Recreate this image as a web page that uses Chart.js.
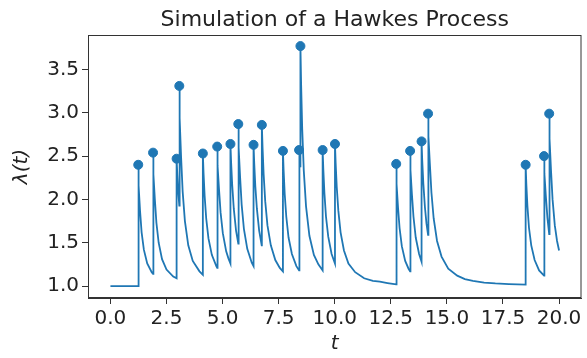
<!DOCTYPE html>
<html>
<head>
<meta charset="utf-8">
<script src="https://cdn.jsdelivr.net/npm/chart.js@4.4.0/dist/chart.umd.min.js"></script>
<style>
  html, body { margin: 0; padding: 0; background: #fff; }
</style>
</head>
<body>
<canvas id="hawkesChart" width="587" height="358"></canvas>
<script>
// event times and intensity right after each event (the dots)
const eventTimes = [1.24, 1.90, 2.95, 3.07, 4.12, 4.76, 5.35, 5.70, 6.38, 6.75, 7.69,
                    8.41, 8.47, 9.46, 10.01, 12.74, 13.36, 13.87, 14.16, 18.51, 19.33, 19.56];
const eventPeaks = [2.40, 2.54, 2.47, 3.31, 2.53, 2.61, 2.64, 2.87, 2.63, 2.86, 2.56,
                    2.57, 3.77, 2.57, 2.64, 2.41, 2.56, 2.67, 2.99, 2.40, 2.50, 2.99];

// intensity curve lambda(t)
const curveT = [
  0, 1.24, 1.24, 1.27, 1.32, 1.39, 1.49, 1.64, 1.84, 1.90,
  1.90, 1.93, 1.98, 2.05, 2.15, 2.30, 2.50, 2.80, 2.95,
  2.95, 2.98, 3.02, 3.07,
  3.07, 3.10, 3.15, 3.22, 3.32, 3.47, 3.67, 3.97, 4.12,
  4.12, 4.15, 4.20, 4.27, 4.37, 4.52, 4.72, 4.76,
  4.76, 4.79, 4.84, 4.91, 5.01, 5.16, 5.26, 5.35,
  5.35, 5.38, 5.43, 5.50, 5.60, 5.70,
  5.70, 5.73, 5.78, 5.85, 5.95, 6.10, 6.30, 6.38,
  6.38, 6.41, 6.46, 6.53, 6.63, 6.75,
  6.75, 6.78, 6.83, 6.90, 7.00, 7.15, 7.35, 7.55, 7.69,
  7.69, 7.72, 7.77, 7.84, 7.94, 8.09, 8.29, 8.41,
  8.41, 8.44, 8.47,
  8.47, 8.50, 8.55, 8.62, 8.72, 8.87, 9.07, 9.27, 9.46,
  9.46, 9.49, 9.54, 9.61, 9.71, 9.86, 10.01,
  10.01, 10.04, 10.09, 10.16, 10.26, 10.41, 10.61, 10.91, 11.31, 11.70, 12.01, 12.35, 12.74,
  12.74, 12.77, 12.82, 12.89, 12.99, 13.14, 13.29, 13.36,
  13.36, 13.39, 13.44, 13.51, 13.61, 13.76, 13.87,
  13.87, 13.90, 13.95, 14.02, 14.09, 14.16,
  14.16, 14.19, 14.24, 14.31, 14.41, 14.56, 14.76, 15.06, 15.46, 15.80, 16.16, 16.66, 17.16, 17.76, 18.51,
  18.51, 18.54, 18.59, 18.66, 18.76, 18.91, 19.11, 19.33,
  19.33, 19.36, 19.41, 19.48, 19.56,
  19.56, 19.59, 19.64, 19.71, 19.81, 19.91, 20.00
];
const curveLambda = [
  1.00, 1.00, 2.40, 2.16, 1.87, 1.62, 1.42, 1.26, 1.16, 1.14,
  2.54, 2.29, 2.00, 1.73, 1.50, 1.31, 1.19, 1.11, 1.09,
  2.47, 2.29, 2.10, 1.93,
  3.31, 2.94, 2.49, 2.09, 1.75, 1.47, 1.29, 1.17, 1.13,
  2.53, 2.31, 2.04, 1.78, 1.55, 1.36, 1.23, 1.21,
  2.61, 2.39, 2.12, 1.85, 1.61, 1.40, 1.32, 1.26,
  2.64, 2.43, 2.16, 1.89, 1.64, 1.49,
  2.87, 2.60, 2.26, 1.94, 1.66, 1.43, 1.27, 1.23,
  2.63, 2.42, 2.15, 1.89, 1.64, 1.46,
  2.86, 2.61, 2.29, 1.98, 1.70, 1.47, 1.30, 1.21, 1.17,
  2.56, 2.34, 2.06, 1.80, 1.56, 1.37, 1.23, 1.18,
  2.57, 2.46, 2.37,
  3.77, 3.34, 2.81, 2.33, 1.92, 1.58, 1.36, 1.25, 1.18,
  2.57, 2.35, 2.07, 1.80, 1.57, 1.37, 1.26,
  2.64, 2.42, 2.14, 1.87, 1.62, 1.41, 1.26, 1.16, 1.09, 1.06, 1.05, 1.035, 1.02,
  2.41, 2.18, 1.91, 1.67, 1.46, 1.29, 1.20, 1.17,
  2.56, 2.34, 2.06, 1.80, 1.56, 1.37, 1.28,
  2.67, 2.45, 2.18, 1.91, 1.72, 1.59,
  2.99, 2.73, 2.41, 2.08, 1.78, 1.52, 1.34, 1.20, 1.12, 1.08, 1.06, 1.04, 1.03, 1.022, 1.016,
  2.40, 2.18, 1.92, 1.67, 1.47, 1.30, 1.18, 1.12,
  2.50, 2.30, 2.04, 1.79, 1.60,
  2.99, 2.70, 2.34, 2.00, 1.70, 1.52, 1.41
];

const xTickValues = [0, 2.5, 5, 7.5, 10, 12.5, 15, 17.5, 20];
const xTickLabels = ['0.0', '2.5', '5.0', '7.5', '10.0', '12.5', '15.0', '17.5', '20.0'];
const yTickValues = [1, 1.5, 2, 2.5, 3, 3.5];
const yTickLabels = ['1.0', '1.5', '2.0', '2.5', '3.0', '3.5'];

const chartTitle = 'Simulation of a Hawkes Process';
const blue = '#1f77b4';
const fontFamily = '"DejaVu Sans", sans-serif';

// title over the plot area and the closed axes box
const framePlugin = {
    id: 'frame',
    afterDraw(chart) {
        const { ctx, chartArea: a } = chart;
        ctx.save();
        ctx.strokeStyle = '#333';
        ctx.lineWidth = 1;
        ctx.strokeRect(a.left + 0.5, a.top + 0.5, a.right - a.left - 1, a.bottom - a.top - 1);
        ctx.fillStyle = '#222';
        ctx.font = '22px ' + fontFamily;
        ctx.textAlign = 'center';
        ctx.textBaseline = 'alphabetic';
        ctx.fillText(chartTitle, (a.left + a.right) / 2, 26);
        ctx.restore();
    }
};

const ctx = document.getElementById('hawkesChart').getContext('2d');
new Chart(ctx, {
    data: {
        datasets: [
            {
                type: 'scatter',
                data: eventTimes.map((t, i) => ({ x: t, y: eventPeaks[i] })),
                backgroundColor: blue,
                borderColor: blue,
                pointRadius: 4.5,
                order: 0
            },
            {
                type: 'line',
                data: curveT.map((t, i) => ({ x: t, y: curveLambda[i] })),
                borderColor: blue,
                borderWidth: 1.8,
                pointRadius: 0,
                tension: 0,
                fill: false,
                order: 1
            }
        ]
    },
    options: {
        responsive: false,
        animation: false,
        layout: { padding: { top: 35, right: 1, left: 0, bottom: 0 } },
        plugins: { legend: { display: false }, tooltip: { enabled: false }, title: { display: false } },
        scales: {
            x: {
                type: 'linear',
                min: -1,
                max: 21,
                afterBuildTicks: s => { s.ticks = xTickValues.map(v => ({ value: v })); },
                afterFit: s => { s.height = 60; },
                ticks: {
                    callback: v => xTickLabels[xTickValues.indexOf(v)],
                    font: { family: fontFamily, size: 20 },
                    color: '#222',
                    padding: 3,
                    maxRotation: 0,
                    autoSkip: false
                },
                grid: { drawOnChartArea: false, tickLength: 6, color: '#333' },
                border: { color: '#333' },
                title: {
                    display: true,
                    text: 't',
                    font: { family: fontFamily, size: 20, style: 'italic' },
                    color: '#222',
                    padding: { top: 0, bottom: 2 }
                }
            },
            y: {
                type: 'linear',
                min: 0.862,
                max: 3.898,
                afterBuildTicks: s => { s.ticks = yTickValues.map(v => ({ value: v })); },
                afterFit: s => { s.width = 88; },
                ticks: {
                    callback: v => yTickLabels[yTickValues.indexOf(v)],
                    font: { family: fontFamily, size: 20 },
                    color: '#222',
                    padding: 3,
                    autoSkip: false
                },
                grid: { drawOnChartArea: false, tickLength: 6, color: '#333' },
                border: { color: '#333' },
                title: {
                    display: true,
                    text: 'λ(t)',
                    font: { family: fontFamily, size: 20, style: 'italic' },
                    color: '#222',
                    padding: { top: 10, bottom: 4 }
                }
            }
        }
    },
    plugins: [framePlugin]
});
</script>
</body>
</html>
